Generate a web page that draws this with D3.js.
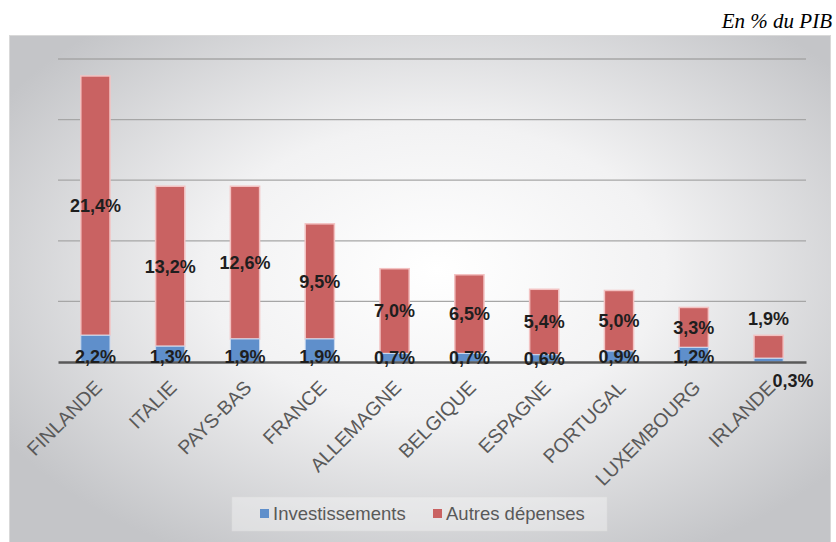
<!DOCTYPE html>
<html>
<head>
<meta charset="utf-8">
<script src="https://cdn.jsdelivr.net/npm/d3@7"></script>
<style>
  html, body { margin: 0; padding: 0; background: #ffffff; }
  svg { display: block; }
</style>
</head>
<body>
<svg id="chart" width="836" height="542"></svg>
<script>
// Dépenses par pays, en % du PIB
const categories = ["FINLANDE", "ITALIE", "PAYS-BAS", "FRANCE", "ALLEMAGNE", "BELGIQUE", "ESPAGNE", "PORTUGAL", "LUXEMBOURG", "IRLANDE"];
const investissements = [2.2, 1.3, 1.9, 1.9, 0.7, 0.7, 0.6, 0.9, 1.2, 0.3];
const autresDepenses = [21.4, 13.2, 12.6, 9.5, 7.0, 6.5, 5.4, 5.0, 3.3, 1.9];
const seriesNames = ["Investissements", "Autres dépenses"];
const yTicks = [0, 5, 10, 15, 20, 25];

const colors = { inv: "#5f8fcb", aut: "#c96262" };
const plot = { left: 58, right: 806, top: 59, bottom: 362 };

const svg = d3.select("#chart");
const defs = svg.append("defs");
const grad = defs.append("radialGradient").attr("id", "bg")
  .attr("cx", "52%").attr("cy", "45%").attr("r", "62%");
grad.append("stop").attr("offset", "0%").attr("stop-color", "#ffffff");
grad.append("stop").attr("offset", "45%").attr("stop-color", "#f2f2f3");
grad.append("stop").attr("offset", "100%").attr("stop-color", "#c4c5c8");

// chart area background
svg.append("rect").attr("x", 9.5).attr("y", 35.5).attr("width", 821).attr("height", 520)
  .attr("fill", "url(#bg)").attr("stroke", "#d9d9d9");

// unit note
svg.append("text").attr("x", 832).attr("y", 28).attr("text-anchor", "end")
  .style("font-family", "'Liberation Serif', 'Times New Roman', serif")
  .style("font-style", "italic").style("font-size", "21px").attr("fill", "#000")
  .text("En % du PIB");

const x = d3.scaleBand().domain(categories).range([plot.left, plot.right]).paddingInner(0.61).paddingOuter(0.305);
const y = d3.scaleLinear().domain([0, 25]).range([plot.bottom, plot.top]);

// horizontal gridlines
svg.append("g").selectAll("line").data(yTicks.filter(t => t > 0)).join("line")
  .attr("x1", plot.left).attr("x2", plot.right)
  .attr("y1", d => y(d)).attr("y2", d => y(d))
  .attr("stroke", "#a6a6a6").attr("stroke-width", 1.3);

const rows = categories.map((c, i) => ({ c, inv: investissements[i], aut: autresDepenses[i] }));

// stacked bars
const g = svg.append("g");
g.selectAll("rect.aut").data(rows).join("rect").attr("class", "aut")
  .attr("x", d => x(d.c)).attr("width", x.bandwidth())
  .attr("y", d => y(d.inv + d.aut)).attr("height", d => y(d.inv) - y(d.inv + d.aut))
  .attr("fill", colors.aut).attr("stroke", "#f3c2c2").attr("stroke-width", 1.5);
g.selectAll("rect.inv").data(rows).join("rect").attr("class", "inv")
  .attr("x", d => x(d.c)).attr("width", x.bandwidth())
  .attr("y", d => y(d.inv)).attr("height", d => y(0) - y(d.inv))
  .attr("fill", colors.inv).attr("stroke", "#c9d8ee").attr("stroke-width", 1);

// category axis
const xAxis = svg.append("g").attr("transform", `translate(0,${plot.bottom})`)
  .call(d3.axisBottom(x).tickSize(0).tickPadding(0));
xAxis.select(".domain").attr("stroke", "#595959").attr("stroke-width", 2.5);
xAxis.selectAll(".tick text")
  .attr("fill", "#595959")
  .style("font-family", "'Liberation Sans', Arial, sans-serif").style("font-size", "19.5px")
  .attr("text-anchor", "end")
  .attr("transform", "translate(3,22) rotate(-45)")
  .attr("dy", "0.35em").attr("y", 0).attr("x", 0);

// value labels
const lab = svg.append("g")
  .style("font-family", "'Liberation Sans', Arial, sans-serif").style("font-size", "18px")
  .style("font-weight", "bold").attr("fill", "#1e1e1e");
const fmt = v => v.toFixed(1).replace(".", ",") + "%";

rows.forEach(d => {
  const cx = x(d.c) + x.bandwidth() / 2;
  // other spending: centred in its segment, above the bar when the segment is short
  const top = y(d.inv + d.aut), bot = y(d.inv);
  const ya = (bot - top) < 30 ? top - 17 : (top + bot) / 2;
  lab.append("text").attr("x", cx).attr("y", ya).attr("dy", "0.35em")
    .attr("text-anchor", "middle").text(fmt(d.aut));
  // investment: centred in its segment, beside the axis when too thin
  const hi = y(0) - y(d.inv);
  if (hi < 6) {
    lab.append("text").attr("x", cx + 4).attr("y", y(0) + 19).attr("dy", "0.35em")
      .attr("text-anchor", "start").text(fmt(d.inv));
  } else {
    lab.append("text").attr("x", cx).attr("y", Math.max((y(d.inv) + y(0)) / 2, y(0) - 5)).attr("dy", "0.35em")
      .attr("text-anchor", "middle").text(fmt(d.inv));
  }
});

// legend
const leg = svg.append("g");
leg.append("rect").attr("x", 232).attr("y", 497).attr("width", 375).attr("height", 34)
  .attr("fill", "rgba(255,255,255,0.35)").attr("stroke", "rgba(220,220,220,0.5)");
const items = [{ n: seriesNames[0], c: colors.inv, x: 260 }, { n: seriesNames[1], c: colors.aut, x: 433 }];
items.forEach(it => {
  leg.append("rect").attr("x", it.x).attr("y", 509).attr("width", 9).attr("height", 9).attr("fill", it.c);
  leg.append("text").attr("x", it.x + 13).attr("y", 514).attr("dy", "0.35em")
    .style("font-family", "'Liberation Sans', Arial, sans-serif").style("font-size", "18.5px")
    .attr("fill", "#595959").text(it.n);
});
</script>
</body>
</html>
